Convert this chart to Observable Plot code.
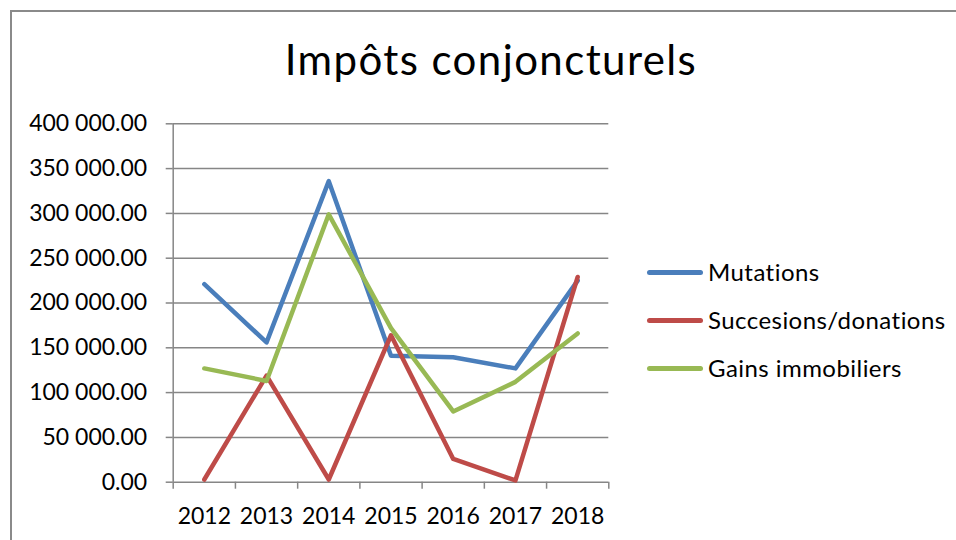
<!DOCTYPE html>
<html>
<head>
<meta charset="utf-8">
<script src="https://cdn.jsdelivr.net/npm/d3@7"></script>
<script src="https://cdn.jsdelivr.net/npm/@observablehq/plot@0.6"></script>
<style>
  html, body { margin: 0; padding: 0; background: #fff; }
  #wrap { position: relative; width: 956px; height: 540px; overflow: hidden; font-family: Lato, "DejaVu Sans", sans-serif; font-variant-ligatures: none; }
  #frame { position: absolute; left: 10px; top: 10px; width: 1200px; height: 1200px; border-left: 2px solid #8a8a8a; border-top: 2px solid #8a8a8a; }
  #title { position: absolute; left: 0; top: 33.5px; width: 982px; text-align: center; font-size: 42px; letter-spacing: 1.4px; line-height: 1.2; color: #000; }
  #chart { position: absolute; left: 0; top: 100px; }
  #legend { position: absolute; left: 647px; top: 248px; font-size: 24px; letter-spacing: 0.45px; line-height: 1.2; color: #000; }
  .row { height: 48px; display: flex; align-items: center; }
  .sw { width: 56px; height: 5px; border-radius: 3px; margin-right: 5px; }
</style>
</head>
<body>
<div id="wrap">
  <div id="frame"></div>
  <div id="title">Impôts conjoncturels</div>
  <div id="chart"></div>
  <div id="legend"></div>
</div>
<script>
const years = [2012, 2013, 2014, 2015, 2016, 2017, 2018];
const seriesNames = ["Mutations", "Succesions/donations", "Gains immobiliers"];
const mutations = [221000, 156000, 336000, 141000, 139500, 127000, 225000];
const successions = [3000, 119000, 3000, 164000, 26000, 2000, 229000];
const gains = [127000, 113000, 299000, 172000, 79000, 112000, 166000];
const seriesColors = ["#4A7EBB", "#BE4B48", "#98B954"];
const yTicks = [0, 50000, 100000, 150000, 200000, 250000, 300000, 350000, 400000];

const seriesValues = [mutations, successions, gains];
const data = seriesNames.flatMap((name, i) =>
  years.map((year, j) => ({series: name, year, value: seriesValues[i][j]}))
);
const boundaries = [...years.map(y => y - 0.5), years[years.length - 1] + 0.5];
const fmt = d => d3.format(",.2f")(d).replace(/,/g, " ");
const gray = "#868686";

const chart = Plot.plot({
  width: 956,
  height: 440,
  marginLeft: 172.7,
  marginRight: 347.7,
  marginTop: 23.3,
  marginBottom: 58.3,
  style: {fontFamily: "Lato, sans-serif", fontSize: "23px", color: "#000", background: "transparent", overflow: "visible"},
  x: {type: "linear", domain: [boundaries[0], boundaries[boundaries.length - 1]]},
  y: {domain: [0, 400000]},
  color: {domain: seriesNames, range: seriesColors},
  marks: [
    Plot.ruleY(yTicks, {stroke: gray, strokeWidth: 1.5}),
    Plot.ruleX([boundaries[0]], {stroke: gray, strokeWidth: 1.5}),
    Plot.axisY({ticks: yTicks, tickSize: 7, tickPadding: 19, tickFormat: fmt, stroke: gray, strokeWidth: 1.5, fill: "#000", label: null}),
    Plot.axisX({ticks: boundaries, tickSize: 7, tickFormat: () => "", stroke: gray, strokeWidth: 1.5, label: null}),
    Plot.axisX({ticks: years, tickSize: 0, tickPadding: 25, tickFormat: d => String(d), fill: "#000", label: null}),
    Plot.line(data, {x: "year", y: "value", z: "series", stroke: "series", strokeWidth: 4.5, strokeLinejoin: "round", strokeLinecap: "round"})
  ]
});
document.getElementById("chart").appendChild(chart);

const legend = document.getElementById("legend");
seriesNames.forEach((name, i) => {
  const row = document.createElement("div");
  row.className = "row";
  const sw = document.createElement("div");
  sw.className = "sw";
  sw.style.background = seriesColors[i];
  const t = document.createElement("span");
  t.textContent = name;
  row.appendChild(sw);
  row.appendChild(t);
  legend.appendChild(row);
});
</script>
</body>
</html>
